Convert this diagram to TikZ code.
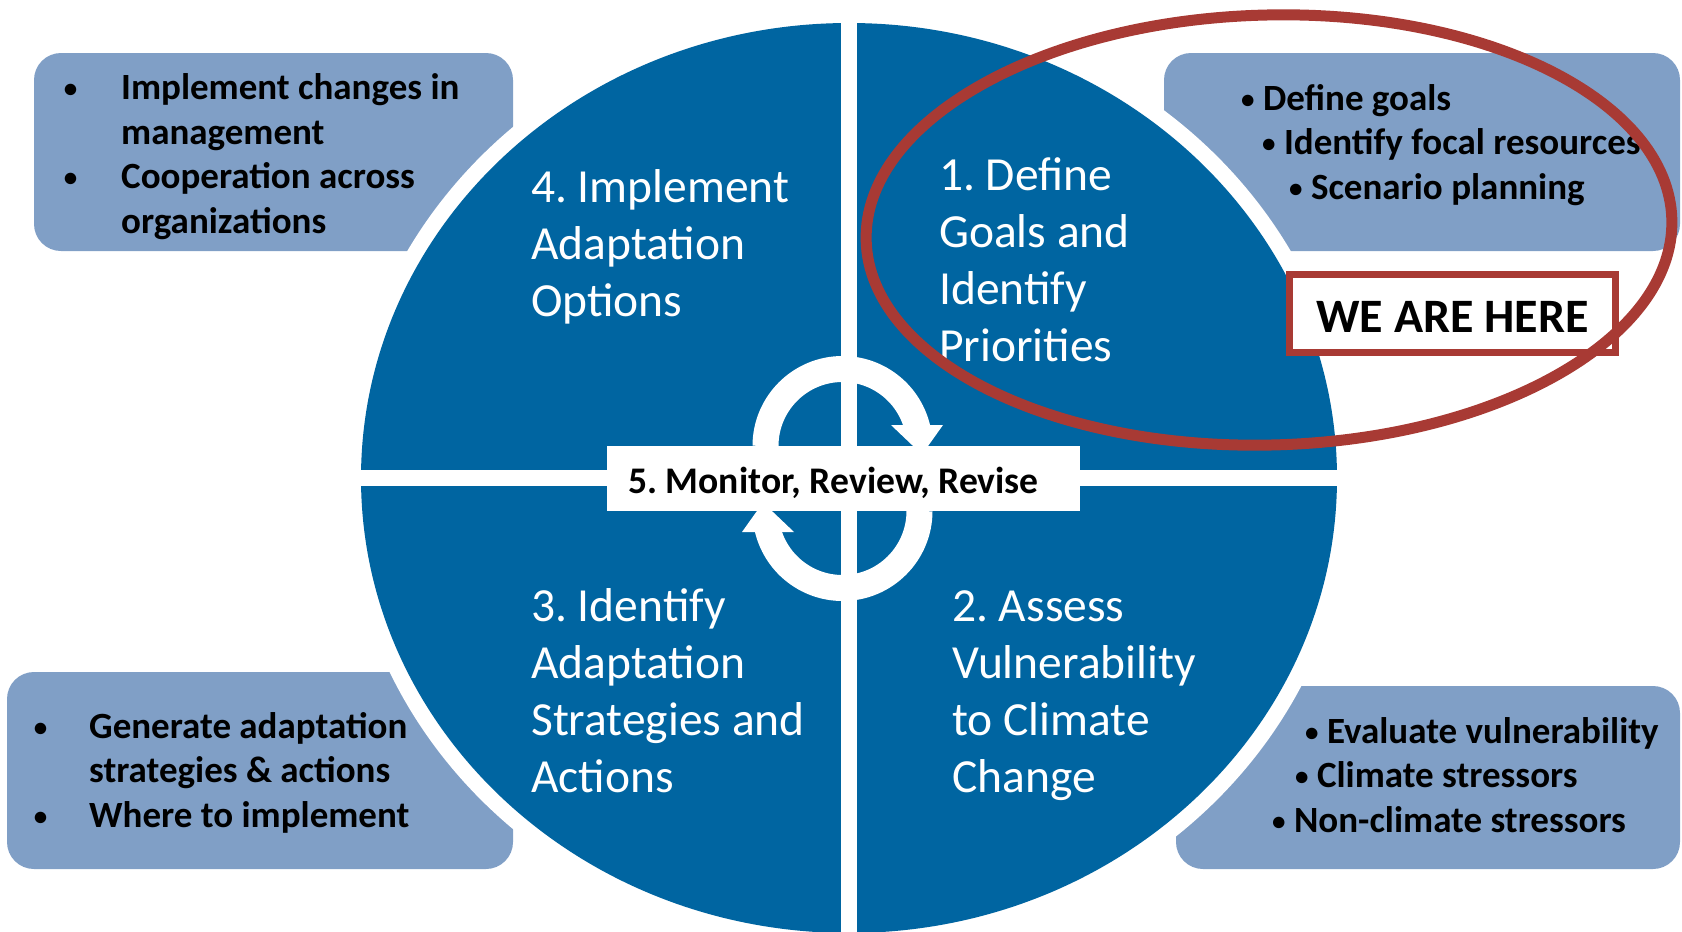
\documentclass[tikz,border=0pt]{standalone}
\usepackage{fontspec}
\setmainfont{Carlito}
\definecolor{quadblue}{RGB}{0,101,161}
\definecolor{boxblue}{RGB}{128,159,198}
\definecolor{markred}{RGB}{168,58,52}
\newcommand{\smbul}{\raisebox{2pt}{\fontsize{27}{27}\selectfont\textbullet}}
\newcommand{\bul}[1]{\llap{\smbul\hspace{#1pt}}}
\frenchspacing

\begin{document}
\begin{tikzpicture}[x=1pt,y=1pt,
  quadtext/.style={text=white, align=left, inner sep=0pt, anchor=base west,
    font=\fontsize{47.5}{57}\selectfont},
  boxtext/.style={align=left, inner sep=0pt, anchor=base west,
    font=\bfseries\fontsize{37}{44.5}\selectfont},
  infobox/.style={fill=boxblue, rounded corners=27pt},
  ring/.style={white, line width=26pt}]
  \useasboundingbox (0,0) rectangle (1682,-932);

  \fill[infobox] (34,-53) rectangle (513,-251);
  \fill[infobox] (1164,-53) rectangle (1680,-251);
  \fill[infobox] (7,-672) rectangle (513,-869);
  \fill[infobox] (1176,-686) rectangle (1680,-869);

  \fill[white] (849,-478) ellipse [x radius=504, y radius=471];
  \fill[quadblue] (849,-478) ellipse [x radius=488, y radius=455];
  \draw[white, line width=16pt] (849,-5) -- (849,-950);
  \draw[white, line width=16pt] (340,-478) -- (1358,-478);

  \draw[ring] (765.5,-446) arc[start angle=180, end angle=12, radius=77];
  \fill[white] (891,-425) -- (943,-425) -- (922,-454.5) -- cycle;
  \draw[ring] (919.5,-511) arc[start angle=0, end angle=-168, radius=77];
  \fill[white] (794,-532) -- (742,-532) -- (763,-502.5) -- cycle;

  \draw (843.5,-478.5) node[fill=white, minimum width=473pt, minimum height=65pt,
    inner sep=0pt, text height=29pt, text depth=0pt,
    font=\bfseries\fontsize{37.6}{44}\selectfont] (monitor) {5. Monitor, Review, Revise\kern20pt};

  % multi-line nodes sit on their last baseline
  \draw (531,-316) node[quadtext] (implement) {4. Implement\\Adaptation\\Options};
  \draw (939,-361) node[quadtext] (define) {1. Define\\Goals and\\Identify\\Priorities};
  \draw (531,-792) node[quadtext] (strategies) {3. Identify\\Adaptation\\Strategies and\\Actions};
  \draw (952,-792) node[quadtext] (assess) {2. Assess\\Vulnerability\\to Climate\\Change};

  \draw (121,-233) node[boxtext] (manage) {\bul{44}Implement changes in\\management\\\bul{44}Cooperation across\\organizations};
  \draw (89,-827) node[boxtext] (generate) {\bul{42}Generate adaptation\\strategies \& actions\\\bul{42}Where to implement};
  \draw (1241,-199) node[boxtext] (goals) {\smbul\ Define goals\\\hspace*{21pt}\smbul\ Identify focal resources\\\hspace*{48pt}\smbul\ Scenario planning};
  \draw (1272,-832) node[boxtext] (evaluate) {\hspace*{33pt}\smbul\ Evaluate vulnerability\\\hspace*{23pt}\smbul\ Climate stressors\\\smbul\ Non-climate stressors};

  \draw (1452.5,-313.5) node[draw=markred, line width=7pt, fill=white,
    minimum width=326pt, minimum height=78pt, inner sep=0pt,
    text height=37pt, text depth=0pt,
    font=\bfseries\fontsize{48}{50}\selectfont] (here) {WE ARE HERE};

  \draw[markred, line width=11pt, rotate around={1.5:(1269,-230)}]
    (1269,-230) ellipse [x radius=403, y radius=215];
\end{tikzpicture}
\end{document}
